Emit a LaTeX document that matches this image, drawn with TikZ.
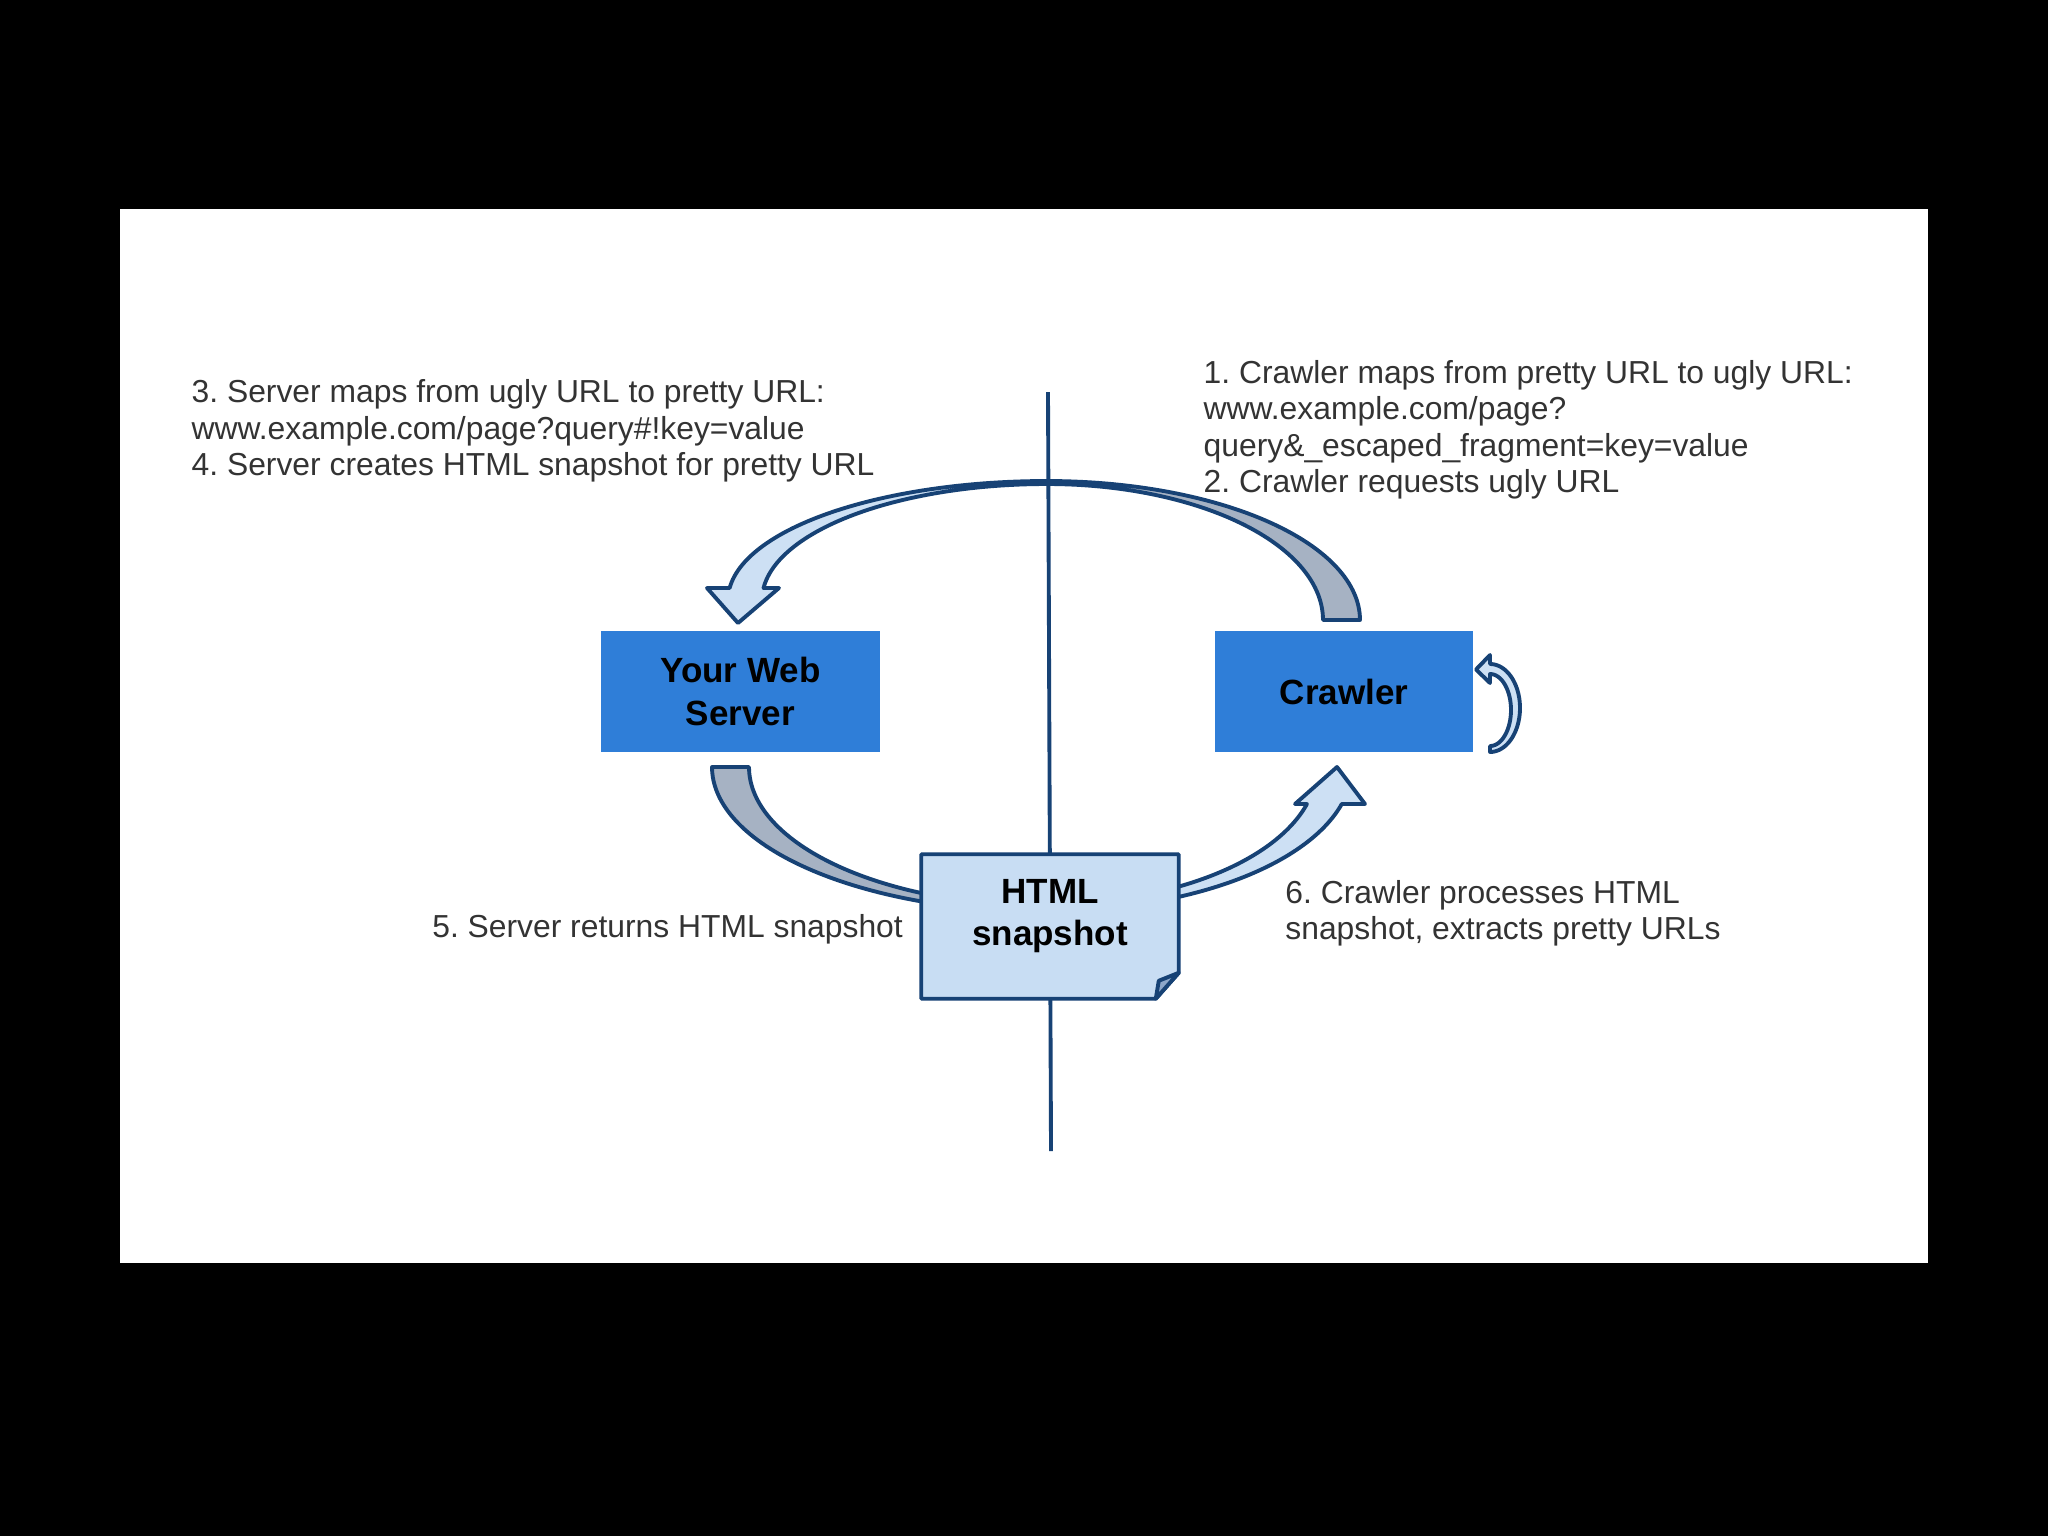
\documentclass[tikz,border=0pt]{standalone}
\usepackage{fontspec}
\setmainfont{Liberation Sans}
\usetikzlibrary{calc}
\frenchspacing
\definecolor{navy}{RGB}{23,66,117}
\definecolor{boxblue}{RGB}{47,126,216}
\definecolor{lightfill}{RGB}{205,224,244}
\definecolor{grayfill}{RGB}{166,178,195}
\definecolor{snapfill}{RGB}{200,221,243}
\definecolor{flapfill}{RGB}{140,166,201}
\definecolor{txt}{RGB}{51,51,51}
\begin{document}
\begin{tikzpicture}[x=0.01cm,y=-0.01cm,
  desc/.style={font=\fontsize{9.05pt}{10.38pt}\selectfont, text=txt, align=left, inner sep=0pt},
  boxlabel/.style={font=\bfseries\fontsize{9.96pt}{12.1pt}\selectfont, text=black, align=center, inner sep=0pt},
  bluebox/.style={boxlabel, fill=boxblue, draw=none, minimum height=1.21cm},
  arrowline/.style={draw=navy, line width=1.1pt, line join=round},
  grayarrow/.style={arrowline, fill=grayfill},
  lightarrow/.style={arrowline, fill=lightfill},
  snapline/.style={draw=navy, line width=1.1pt, line join=round, fill=snapfill},
  divider/.style={draw=navy, line width=1.1pt}]
\fill[black] (0,0) rectangle (2048,1536);
\fill[white] (120,209) rectangle (1928,1263);
\useasboundingbox (0,0) rectangle (2048,1536);

% divider
\coordinate (divtop) at (1048,392);
\coordinate (divbot) at (1051,1151);
\draw[divider] (divtop) -- (divbot);

% top right gray arrow (crawler -> server request)
\draw[grayarrow] plot[domain=270:360,samples=60,variable=\t]({1047+313*cos(\t)},{620+139*sin(\t)})
  -- plot[domain=360:270,samples=60,variable=\t]({1047+276*cos(\t)},{620+136*sin(\t)}) -- cycle;

% top left light arrow
\draw[lightarrow] plot[domain=270:185.8,samples=60,variable=\t]({1047+319*cos(\t)},{600+119*sin(\t)})
  -- (707,588) -- (738,623) -- (779,588)
  -- plot[domain=185.94:270,samples=60,variable=\t]({1047+285*cos(\t)},{600+116*sin(\t)}) -- cycle;

% bottom left gray arrow
\draw[grayarrow] plot[domain=180:105,samples=60,variable=\t]({1047+335*cos(\t)},{767+145*sin(\t)})
  -- plot[domain=105:180,samples=60,variable=\t]({1047+298*cos(\t)},{767+139*sin(\t)}) -- cycle;

% bottom right light arrow
\draw[lightarrow] plot[domain=75:14.89,samples=60,variable=\t]({1047+305*cos(\t)},{767+144*sin(\t)})
  -- (1365,804) -- (1337,767) -- (1295,804)
  -- plot[domain=15.67:75,samples=60,variable=\t]({1047+270*cos(\t)},{767+137*sin(\t)}) -- cycle;

% boxes
\node[bluebox, minimum width=2.79cm] (server) at (740.5,691.5) {Your Web\\Server};
\node[bluebox, minimum width=2.58cm] (crawler) at (1344,691.5) {Crawler};

% self loop on crawler
\draw[lightarrow] plot[domain=90:-90,samples=50,variable=\t]({1490+30*cos(\t)},{708+44*sin(\t)})
  -- (1490,655) -- (1476,669.5) -- (1490,683)
  -- plot[domain=-90:90,samples=50,variable=\t]({1490+21*cos(\t)},{710+36*sin(\t)}) -- cycle;

% HTML snapshot note
\node[draw=none, minimum width=2.56cm, minimum height=1.43cm, inner sep=0pt] (snap) at (1050,926.5) {};
\draw[snapline] (snap.north west) -- (snap.north east) -- ($(snap.south east)+(0,-26)$)
  -- ($(snap.south east)+(-23,0)$) -- (snap.south west) -- cycle;
\draw[snapline, fill=flapfill] ($(snap.south east)+(0,-26)$) -- ($(snap.south east)+(-20,-18)$)
  -- ($(snap.south east)+(-23,0)$) -- cycle;
\node[boxlabel] (snaplabel) at (1050,916) {HTML\\snapshot};

% descriptions
\node[desc, anchor=north west] (t34) at (191,378.9) {3. Server maps from ugly URL to pretty URL:\\www.example.com/page?query\#!key=value\\4. Server creates HTML snapshot for pretty URL};
\node[desc, anchor=north west] (t12) at (1203,359.5) {1. Crawler maps from pretty URL to ugly URL:\\www.example.com/page?\\query\&\_escaped\_fragment=key=value\\2. Crawler requests ugly URL};
\node[desc, anchor=base west] (t5) at (431.6,937) {5. Server returns HTML snapshot};
\node[desc, anchor=north west] (t6) at (1284.7,879.3) {6. Crawler processes HTML\\snapshot, extracts pretty URLs};
\end{tikzpicture}
\end{document}
